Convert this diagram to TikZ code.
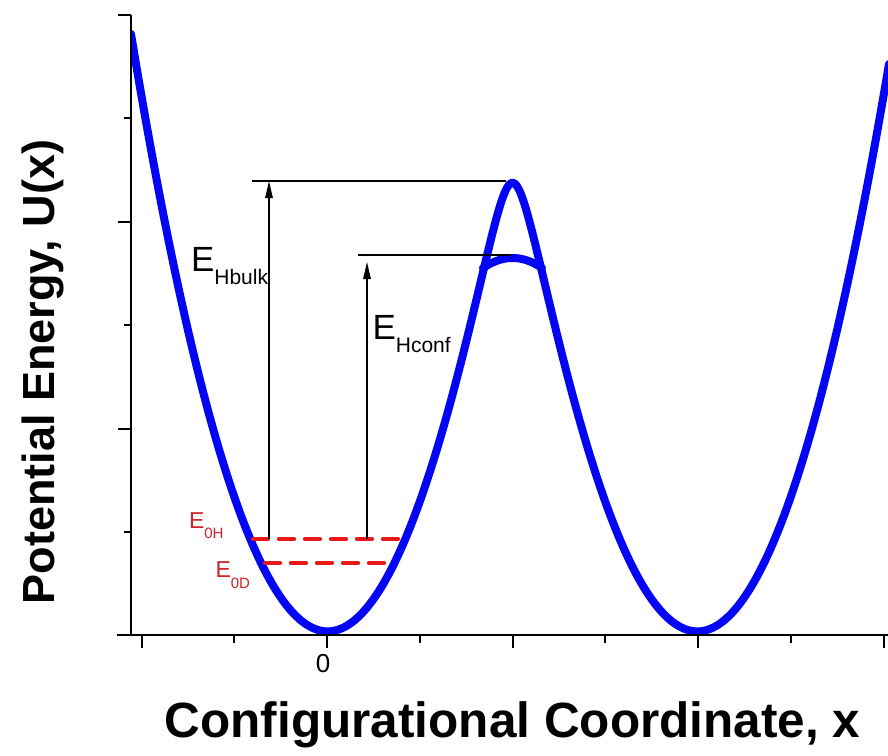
\documentclass[tikz,border=0pt]{standalone}
\usepackage{fontspec}
\setmainfont{Liberation Sans}
\usetikzlibrary{arrows.meta}
\definecolor{curveblue}{RGB}{5,5,245}
\definecolor{levelred}{RGB}{232,24,24}
\definecolor{labelred}{RGB}{205,34,40}
\tikzset{
  curve/.style={draw=curveblue, line width=8pt, line cap=round, line join=round},
  axisline/.style={draw=black, line width=2.2pt},
  ticks/.style={draw=black, line width=2pt},
  level/.style={draw=levelred, line width=4.2pt, line cap=round, dash pattern=on 15pt off 11pt},
  guide/.style={draw=black, line width=1.2pt},
  arr/.style={draw=black, line width=1.2pt, -{Triangle[length=17pt,width=7.5pt]}},
  lab/.style={inner sep=0pt, outer sep=0pt, anchor=base west},
}
\begin{document}
\begin{tikzpicture}[x=1pt,y=-1pt,
  declare function={
    pa(\t)=(0.01245*(\t-327))^2;
    pb(\t)=(0.01245*(\t-698))^2;
    um(\t)=100*((pa(\t)+pb(\t))/2-sqrt(((pa(\t)-pb(\t))/2)^2+0.7832));
  }]
\useasboundingbox (0,0) rectangle (888,755);

% potential curve
\begin{scope}
  \clip (131,0) rectangle (888,640);
  \draw[curve] plot[domain=131:889, samples=420] (\x,{627.7-um(\x)});
  \draw[curve] plot[domain=483:542, samples=40] (\x,{258+0.0115*(\x-512.5)^2});
\end{scope}

% axes
\coordinate (ytop) at (131,15);
\coordinate (yorig) at (131,635);
\coordinate (xleft) at (117,635);
\coordinate (xright) at (888,635);
\draw[axisline] (ytop) -- (yorig);
\draw[axisline] (xleft) -- (xright);
\foreach \yy in {15,222,429} \draw[ticks] (118,\yy) -- (131,\yy);
\foreach \yy in {118,325,532} \draw[ticks] (124,\yy) -- (131,\yy);
\foreach \xx in {141.5,327,512.5,698,883.5} \draw[ticks] (\xx,635) -- (\xx,648);
\foreach \xx in {234.25,419.75,605.25,790.75} \draw[ticks] (\xx,635) -- (\xx,643);

% zero-point levels
\coordinate (hl) at (253,539);
\coordinate (hr) at (400,539);
\coordinate (dl) at (265,563);
\coordinate (dr) at (388,563);
\draw[level] (hl) -- (hr);
\draw[level] (dl) -- (dr);

% barrier guides and arrows
\coordinate (bulkleft) at (252,181);
\coordinate (bulkright) at (506,181);
\coordinate (bulkfoot) at (269,539);
\coordinate (bulkhead) at (269,181);
\coordinate (confleft) at (358,255);
\coordinate (confright) at (511,255);
\coordinate (conffoot) at (367,539);
\coordinate (confhead) at (367,262);
\draw[guide] (bulkleft) -- (bulkright);
\draw[guide] (confleft) -- (confright);
\draw[arr] (bulkfoot) -- (bulkhead);
\draw[arr] (conffoot) -- (confhead);

% labels
\node[lab] (ebulk) at (191,271) {\fontsize{35}{35}\selectfont E\raisebox{-13pt}{\fontsize{21}{21}\selectfont Hbulk}};
\node[lab] (econf) at (372.5,339) {\fontsize{35}{35}\selectfont E\raisebox{-13pt}{\fontsize{21}{21}\selectfont Hconf}};
\node[lab, text=labelred] (e0h) at (189,528) {\fontsize{23}{23}\selectfont E\raisebox{-10pt}{\fontsize{15}{15}\selectfont 0H}};
\node[lab, text=labelred] (e0d) at (215.5,577) {\fontsize{23}{23}\selectfont E\raisebox{-11pt}{\fontsize{15}{15}\selectfont 0D}};

\node[inner sep=0pt, anchor=base] (zero) at (323,672) {\fontsize{26}{26}\selectfont 0};

\node[inner sep=0pt, anchor=base] (xlabel) at (512.5,737) {\fontsize{49.5}{50}\selectfont\bfseries Configurational Coordinate, x};
\node[inner sep=0pt, anchor=base, rotate=90] (ylabel) at (54,372) {\fontsize{45}{45}\selectfont\bfseries Potential Energy, U(x)};
\end{tikzpicture}
\end{document}
